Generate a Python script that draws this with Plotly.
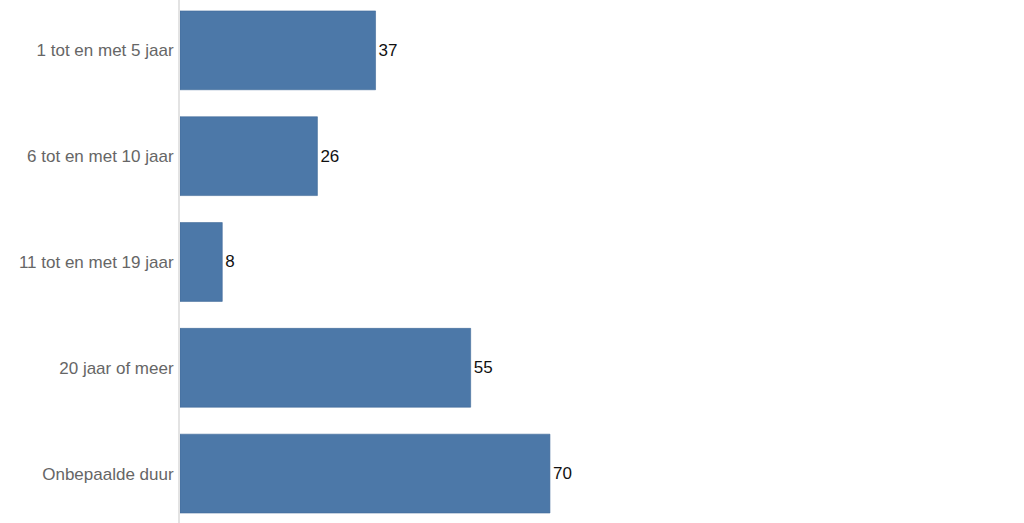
import plotly.graph_objects as go

categories = ["1 tot en met 5 jaar", "6 tot en met 10 jaar", "11 tot en met 19 jaar",
              "20 jaar of meer", "Onbepaalde duur"]
values = [37, 26, 8, 55, 70]

fig = go.Figure(go.Bar(
    x=values, y=categories, orientation="h",
    marker=dict(color="#4c78a8", line=dict(width=0.6, color="#3f6a99")),
    width=0.745,
    text=[str(v) for v in values], textposition="outside",
    textfont=dict(family="Liberation Sans, Arial, sans-serif", size=17, color="#111111"),
    cliponaxis=False,
))

fig.update_layout(
    width=1024, height=523,
    margin=dict(l=180, r=0, t=0, b=0),
    paper_bgcolor="white", plot_bgcolor="white",
    showlegend=False,
    font=dict(family="Liberation Sans, Arial, sans-serif", size=17, color="#666666"),
    xaxis=dict(range=[0, 159.7], showgrid=False, zeroline=False, showticklabels=False,
               showline=False, fixedrange=True),
    yaxis=dict(categoryorder="array", categoryarray=categories,
               range=[4.467, -0.476], showgrid=False, zeroline=False,
               showline=True, linecolor="#e3e3e3", linewidth=2,
               ticks="", ticklabelstandoff=1,
               tickfont=dict(size=17, color="#666666")),
)

fig.write_html("out.html", config={"displayModeBar": False},
               post_script="document.body.style.margin='0';")
